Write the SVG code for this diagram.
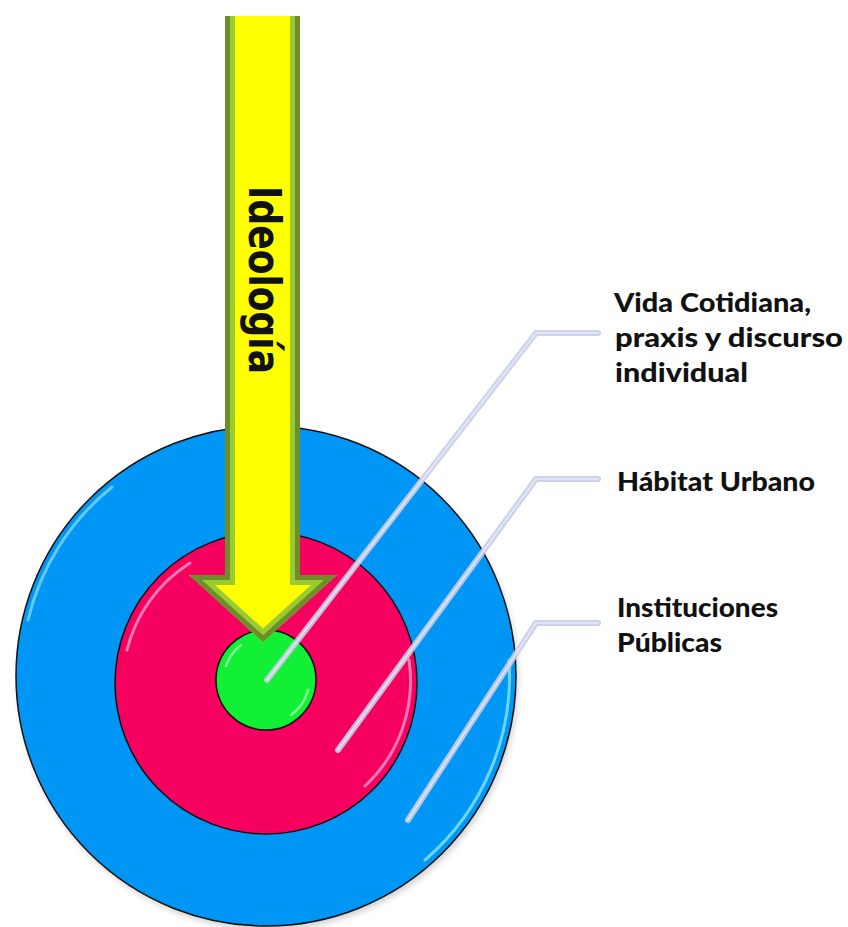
<svg xmlns="http://www.w3.org/2000/svg" width="848" height="927" viewBox="0 0 848 927">
  <defs>
    <clipPath id="arrowClip">
      <path d="M225,16 H300 V575 H337 L263,642 L189,575 H225 Z"/>
    </clipPath>
    <filter id="shadow" x="-10%" y="-10%" width="120%" height="125%">
      <feGaussianBlur stdDeviation="3"/>
    </filter>
    <style>
      .ring { stroke: #111; stroke-width: 1.5; }
      .hl { fill: none; stroke-linecap: round; }
      .conn { fill: none; stroke: #C9CDE8; stroke-width: 6; stroke-linejoin: round; stroke-linecap: round; opacity: 0.9; }
      .conn-in { fill: none; stroke: #EEF0FA; stroke-width: 1.5; stroke-linejoin: round; stroke-linecap: round; opacity: 0.8; }
      .label { font-family: Lato, "Open Sans", "Liberation Sans", sans-serif; font-weight: 900; font-size: 27px; fill: #111; }
      .vtext { font-family: "DejaVu Sans", "Liberation Sans", sans-serif; font-weight: bold; font-size: 45px; fill: #111; }
    </style>
  </defs>
  <rect width="848" height="927" fill="#ffffff"/>

  <g id="node-instituciones">
    <circle cx="268" cy="680" r="250" fill="#000" opacity="0.18" filter="url(#shadow)"/>
    <circle class="ring" cx="266" cy="676" r="250" fill="#0096F5"/>
    <path class="hl" d="M28,620 A243,243 0 0 1 112,487" stroke="#7FD6FF" stroke-width="3" opacity="0.8"/>
    <path class="hl" d="M509,660 A243,243 0 0 1 425,860" stroke="#7FE2FF" stroke-width="3" opacity="0.85"/>
  </g>

  <g id="node-habitat">
    <circle class="ring" cx="266" cy="683" r="151" fill="#F5005E"/>
    <path class="hl" d="M127,650 A144,144 0 0 1 190,563" stroke="#FF8FBF" stroke-width="3" opacity="0.85"/>
    <path class="hl" d="M409,660 A144,144 0 0 1 365,786" stroke="#FF8FC6" stroke-width="3" opacity="0.85"/>
  </g>

  <g id="node-vida">
    <circle class="ring" cx="266" cy="680" r="50" fill="#11F034"/>
    <path class="hl" d="M226,666 A43,43 0 0 1 241,645" stroke="#9BFFA8" stroke-width="2.5" opacity="0.85"/>
    <path class="hl" d="M308,690 A43,43 0 0 1 291,715" stroke="#9BFFA8" stroke-width="2.5" opacity="0.85"/>
  </g>

  <g id="node-ideologia">
    <g clip-path="url(#arrowClip)">
      <path d="M225,-30 H300 V575 H337 L263,642 L189,575 H225 Z" fill="#FFFF00"/>
      <path d="M225,-30 H300 V575 H337 L263,642 L189,575 H225 Z" fill="none" stroke="#99CC33" stroke-width="20" stroke-linejoin="miter"/>
      <path d="M225,-30 H300 V575 H337 L263,642 L189,575 H225 Z" fill="none" stroke="#6E8E2A" stroke-width="10" stroke-linejoin="miter"/>
    </g>
    <text class="vtext" transform="translate(249,186) rotate(90)" x="0" y="0" textLength="188" lengthAdjust="spacingAndGlyphs">Ideología</text>
  </g>

  <g id="connectors">
    <polyline class="conn" points="267,680 536,333 598,333"/>
    <polyline class="conn-in" points="267,680 536,333 598,333"/>
    <polyline class="conn" points="338,750 536,479 598,479"/>
    <polyline class="conn-in" points="338,750 536,479 598,479"/>
    <polyline class="conn" points="408,820 536,623 598,623"/>
    <polyline class="conn-in" points="408,820 536,623 598,623"/>
  </g>

  <g id="label-vida">
    <text class="label" x="614" y="312" textLength="197" lengthAdjust="spacingAndGlyphs">Vida Cotidiana,</text>
    <text class="label" x="615" y="347" textLength="228" lengthAdjust="spacingAndGlyphs">praxis y discurso</text>
    <text class="label" x="615" y="382" textLength="133" lengthAdjust="spacingAndGlyphs">individual</text>
  </g>
  <g id="label-habitat">
    <text class="label" x="617" y="491" textLength="198" lengthAdjust="spacingAndGlyphs">Hábitat Urbano</text>
  </g>
  <g id="label-instituciones">
    <text class="label" x="617" y="617" textLength="161" lengthAdjust="spacingAndGlyphs">Instituciones</text>
    <text class="label" x="617" y="652" textLength="105" lengthAdjust="spacingAndGlyphs">Públicas</text>
  </g>
</svg>
